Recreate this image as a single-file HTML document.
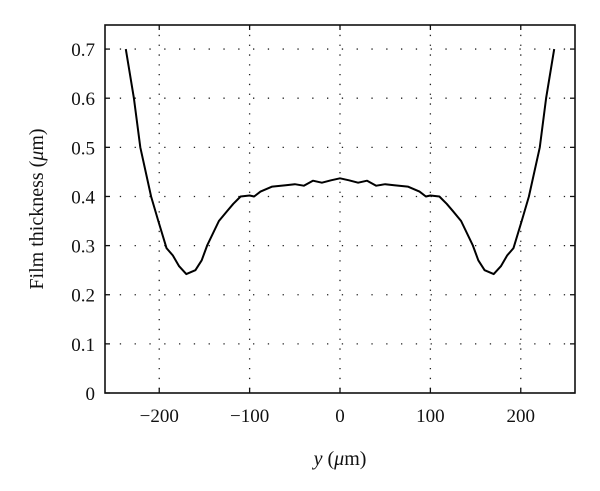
<!DOCTYPE html>
<html><head><meta charset="utf-8">
<style>
html,body{margin:0;padding:0;background:#fff;}
svg{display:block;}
text{font-family:"Liberation Serif",serif;fill:#111;}
</style></head>
<body>
<svg id="chart" width="600" height="491"></svg>
<script>
const xTicks = [-200, -100, 0, 100, 200];
const yTicks = [0, 0.1, 0.2, 0.3, 0.4, 0.5, 0.6, 0.7];
const yTickLabels = ["0", "0.1", "0.2", "0.3", "0.4", "0.5", "0.6", "0.7"];
const xTickLabels = ["\u2212200", "\u2212100", "0", "100", "200"];
const halfX = [-237, -228, -221, -209, -201, -192, -185, -178, -170, -160, -153, -147, -134, -125, -118, -110, -100, -95, -88, -75, -60, -50, -40, -30, -20, -10, 0];
const halfY = [0.70, 0.60, 0.50, 0.40, 0.35, 0.295, 0.28, 0.258, 0.242, 0.25, 0.27, 0.30, 0.35, 0.37, 0.385, 0.40, 0.402, 0.40, 0.41, 0.42, 0.423, 0.425, 0.422, 0.432, 0.428, 0.433, 0.437];

const X0 = 105, X1 = 575, Y0 = 25, Y1 = 393;
const xMin = -260, xMax = 260, yMin = 0, yMax = 0.749;
const sx = v => X0 + (v - xMin) / (xMax - xMin) * (X1 - X0);
const sy = v => Y1 - (v - yMin) / (yMax - yMin) * (Y1 - Y0);
const NS = "http://www.w3.org/2000/svg";
const svg = document.getElementById("chart");
function mk(tag, attrs, parent) {
  const e = document.createElementNS(NS, tag);
  for (const k in attrs) e.setAttribute(k, attrs[k]);
  (parent || svg).appendChild(e);
  return e;
}
// grid
xTicks.forEach(t => {
  const g = mk("line", {x1: sx(t), x2: sx(t), y1: Y0, y2: Y1, stroke: "#222", "stroke-width": 1.3, "stroke-dasharray": "1.3 8.5"});
  
  
});
yTicks.forEach(t => {
  if (t === 0) return;
  const g = mk("line", {x1: X0, x2: X1, y1: sy(t), y2: sy(t), stroke: "#222", "stroke-width": 1.3, "stroke-dasharray": "1.3 13.5"});
  
  
});
// frame
const fr = mk("rect", {x: X0, y: Y0, width: X1 - X0, height: Y1 - Y0, fill: "none", stroke: "#111", "stroke-width": 1.6});


// ticks & labels
xTicks.forEach((t, i) => {
  mk("line", {x1: sx(t), x2: sx(t), y1: Y1, y2: Y1 - 5, stroke: "#111", "stroke-width": 1.3});
  mk("line", {x1: sx(t), x2: sx(t), y1: Y0, y2: Y0 + 5, stroke: "#111", "stroke-width": 1.3});
  const tx = mk("text", {x: sx(t), y: 422, "text-anchor": "middle", "font-size": 19});
  tx.textContent = xTickLabels[i];
  
  
});
yTicks.forEach((t, i) => {
  mk("line", {x1: X0, x2: X0 + 5, y1: sy(t), y2: sy(t), stroke: "#111", "stroke-width": 1.3});
  mk("line", {x1: X1, x2: X1 - 5, y1: sy(t), y2: sy(t), stroke: "#111", "stroke-width": 1.3});
  const tx = mk("text", {x: 95, y: sy(t) + 7, "text-anchor": "end", "font-size": 19});
  tx.textContent = yTickLabels[i];
  
  
});
// axis titles
const xt = mk("text", {x: 340, y: 465, "text-anchor": "middle", "font-size": 20});
xt.innerHTML = '<tspan font-style="italic">y</tspan> (<tspan font-style="italic">\u03bc</tspan>m)';


const yt = mk("text", {x: 0, y: 0, "text-anchor": "middle", "font-size": 20, transform: "translate(43,209) rotate(-90)"});
yt.innerHTML = 'Film thickness (<tspan font-style="italic">\u03bc</tspan>m)';


// series (symmetric profile)
const xs = halfX.concat(halfX.slice(0, -1).reverse().map(v => -v));
const ys = halfY.concat(halfY.slice(0, -1).reverse());
const d = xs.map((v, i) => (i ? "L" : "M") + sx(v).toFixed(1) + "," + sy(ys[i]).toFixed(1)).join(" ");
const p = mk("path", {d: d, fill: "none", stroke: "#000", "stroke-width": 2, "stroke-linejoin": "round"});


</script>
</body></html>
